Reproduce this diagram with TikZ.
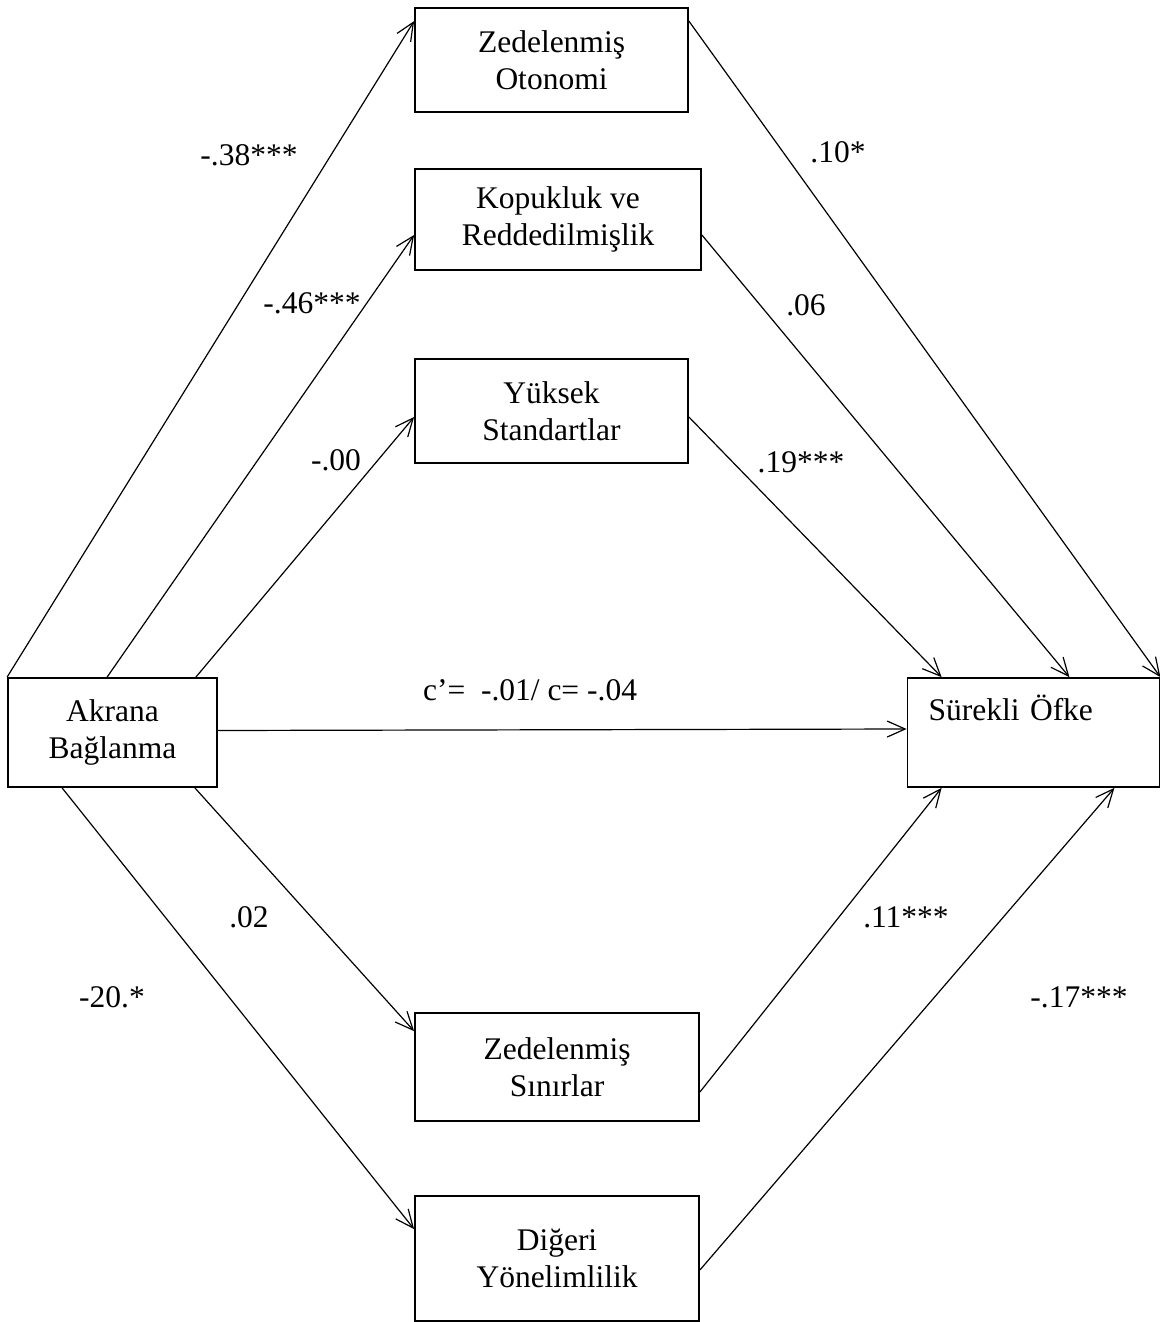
\documentclass[tikz,border=0pt]{standalone}
\usepackage{fontspec}
\setmainfont{Liberation Serif}
\usetikzlibrary{arrows.meta}

\tikzset{
  box/.style={draw,line width=0.9pt,align=center,inner sep=0pt,
    font=\fontsize{15.75}{18.5}\selectfont},
  lbl/.style={font=\fontsize{15.75}{18.5}\selectfont,inner sep=0pt},
  path/.style={line width=0.6pt,-{Straight Barb[length=9pt,width=8pt,line width=0.6pt]}}
}

\begin{document}
\begin{tikzpicture}[x=0.5pt,y=-0.5pt]
  \useasboundingbox (0,0) rectangle (1160,1322);

  % Variables
  \node[box,minimum width=104.5pt,minimum height=54.5pt] (akr) at (112.5,732.5) {Akrana\\Bağlanma};
  \node[box,minimum width=125.5pt,minimum height=54.5pt,text width=105pt,align=left,
        inner xsep=10.5pt,text height=21pt,text depth=33.5pt] (sur) at (1033.5,732.5) {Sürekli Öfke};

  \node[box,minimum width=136.5pt,minimum height=52pt] (oto) at (551.5,60) {Zedelenmiş\\Otonomi};
  \node[box,minimum width=143pt,minimum height=50.5pt] (kop) at (558,219.5) {Kopukluk ve\\Reddedilmişlik};
  \node[box,minimum width=136.5pt,minimum height=52pt] (yuk) at (551.5,411) {Yüksek\\Standartlar};
  \node[box,minimum width=142pt,minimum height=54pt] (sin) at (557,1067) {Zedelenmiş\\Sınırlar};
  \node[box,minimum width=142pt,minimum height=62.5pt] (dig) at (557,1258.5) {Diğeri\\Yönelimlilik};

  % Paths to mediators
  \draw[path] (akr.north west) -- ([yshift=-7pt]oto.north west);
  \draw[path] ([xshift=50pt]akr.north west) -- ([yshift=-7.75pt]kop.west);
  \draw[path] ([xshift=-11pt]akr.north east) -- ([yshift=-3pt]yuk.west);
  \draw[path] ([xshift=-11.5pt]akr.south east) -- ([yshift=-9.5pt]sin.north west);
  \draw[path] ([xshift=27.5pt]akr.south west) -- ([yshift=-17pt]dig.north west);

  % Direct path
  \draw[path] ([yshift=1pt]akr.east) -- ([yshift=1.75pt]sur.west);

  % Paths to outcome
  \draw[path] ([yshift=-7pt]oto.north east) -- (sur.north east);
  \draw[path] ([yshift=-7.75pt]kop.east) -- ([xshift=-45.5pt]sur.north east);
  \draw[path] ([yshift=-3pt]yuk.east) -- ([xshift=17.5pt]sur.north west);
  \draw[path] ([yshift=-12.5pt]sin.east) -- ([xshift=17.5pt]sur.south west);
  \draw[path] ([yshift=-5.75pt]dig.east) -- ([xshift=-23pt]sur.south east);

  % Coefficients
  \node[lbl] (a1) at (249,155) {-.38***};
  \node[lbl] (b1) at (838,152) {.10*};
  \node[lbl] (a2) at (312,303) {-.46***};
  \node[lbl] (b2) at (806,305) {.06};
  \node[lbl] (a3) at (336,460) {-.00};
  \node[lbl] (b3) at (801,462) {.19***};
  \node[lbl] (c)  at (530,690) {c’=~ -.01/ c= -.04};
  \node[lbl] (a4) at (249,917) {.02};
  \node[lbl] (b4) at (906,917) {.11***};
  \node[lbl] (a5) at (112,997) {-20.*};
  \node[lbl] (b5) at (1079,997) {-.17***};

\end{tikzpicture}
\end{document}
